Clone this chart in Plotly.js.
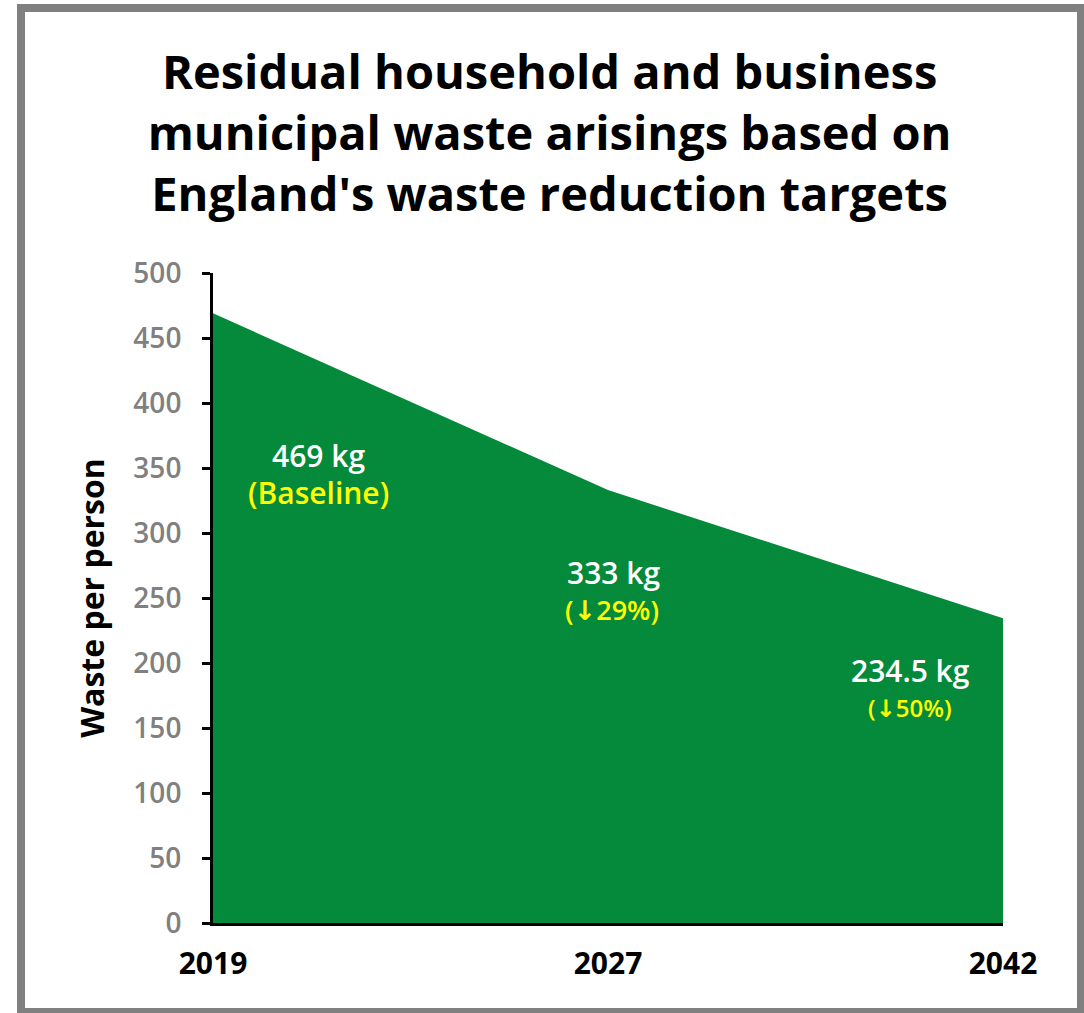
<!DOCTYPE html>
<html>
<head>
<meta charset="utf-8">
<script src="https://cdn.plot.ly/plotly-3.0.1.min.js"></script>
<style>
  html, body { margin: 0; padding: 0; background: #ffffff; }
  #chart { position: absolute; left: 0; top: 0; width: 1084px; height: 1013px; }
  #frame { position: absolute; left: 17px; top: 4px; width: 1068px; height: 1012px;
           box-sizing: border-box; border: 8px solid #808080; pointer-events: none; }
</style>
</head>
<body>
<div id="chart"></div>
<div id="frame"></div>
<script>
const years = ['2019', '2027', '2042'];
const wastePerPerson = [469, 333, 234.5];
const valueLabels = ['469 kg', '333 kg', '234.5 kg'];
const noteLabels = ['(Baseline)', '(<span style="font-family:DejaVu Sans">\u2193</span>29%)', '(<span style="font-family:DejaVu Sans">\u2193</span>50%)'];
const yTicks = [0, 50, 100, 150, 200, 250, 300, 350, 400, 450, 500];

const FONT = '"Open Sans", "Noto Sans", sans-serif';
const GREEN = '#048A3A';
const YELLOW = '#FFFF00';

// annotation placement (category index, value axis) - positions only
const valuePos = [[0.266, 360], [1.015, 270], [1.765, 194.6]];
const notePos = [[0.266, 331.5], [1.01, 241.5], [1.765, 165.4]];
const valueSizes = [30, 30, 30];
const noteSizes = [30, 27, 24];

const annotations = [];
for (let i = 0; i < years.length; i++) {
  annotations.push({
    x: valuePos[i][0], y: valuePos[i][1], xref: 'x', yref: 'y',
    text: valueLabels[i], showarrow: false,
    font: { family: FONT, size: valueSizes[i], color: '#ffffff', weight: 600 },
    xanchor: 'center', yanchor: 'middle'
  });
  annotations.push({
    x: notePos[i][0], y: notePos[i][1], xref: 'x', yref: 'y',
    text: noteLabels[i], showarrow: false,
    font: { family: FONT, size: noteSizes[i], color: YELLOW, weight: 600 },
    xanchor: 'center', yanchor: 'middle'
  });
}

const trace = {
  type: 'scatter',
  mode: 'lines',
  x: years,
  y: wastePerPerson,
  fill: 'tozeroy',
  fillcolor: GREEN,
  line: { width: 0, color: GREEN },
  hoverinfo: 'x+y'
};

const layout = {
  width: 1084,
  height: 1013,
  paper_bgcolor: '#ffffff',
  plot_bgcolor: '#ffffff',
  margin: { l: 213, r: 81, t: 273, b: 90 },
  showlegend: false,
  title: {
    text: 'Residual household and business<br>municipal waste arisings based on<br>England\'s waste reduction targets',
    font: { family: FONT, size: 47, color: '#000000', weight: 700 },
    xref: 'container', yref: 'container',
    x: 0.507, xanchor: 'center',
    y: 0.912, yanchor: 'middle'
  },
  xaxis: {
    type: 'category',
    range: [0, 2],
    showgrid: false,
    zeroline: false,
    showline: true,
    linecolor: '#000000',
    linewidth: 3,
    ticks: '',
    tickfont: { family: FONT, size: 30, color: '#000000', weight: 700 },
    ticklabelstandoff: 12
  },
  yaxis: {
    range: [0, 500],
    tickvals: yTicks,
    ticktext: yTicks.map(String),
    showgrid: false,
    zeroline: false,
    showline: true,
    linecolor: '#000000',
    linewidth: 3,
    ticks: 'outside',
    ticklen: 8,
    tickwidth: 3,
    tickcolor: '#000000',
    tickfont: { family: FONT, size: 28, color: '#808080', weight: 600 },
    ticklabelstandoff: 15,
    title: {
      text: 'Waste per person',
      font: { family: FONT, size: 32, color: '#000000', weight: 700 },
      standoff: 20
    }
  },
  annotations: annotations
};

Plotly.newPlot('chart', [trace], layout, { displayModeBar: false, staticPlot: true });
</script>
</body>
</html>
